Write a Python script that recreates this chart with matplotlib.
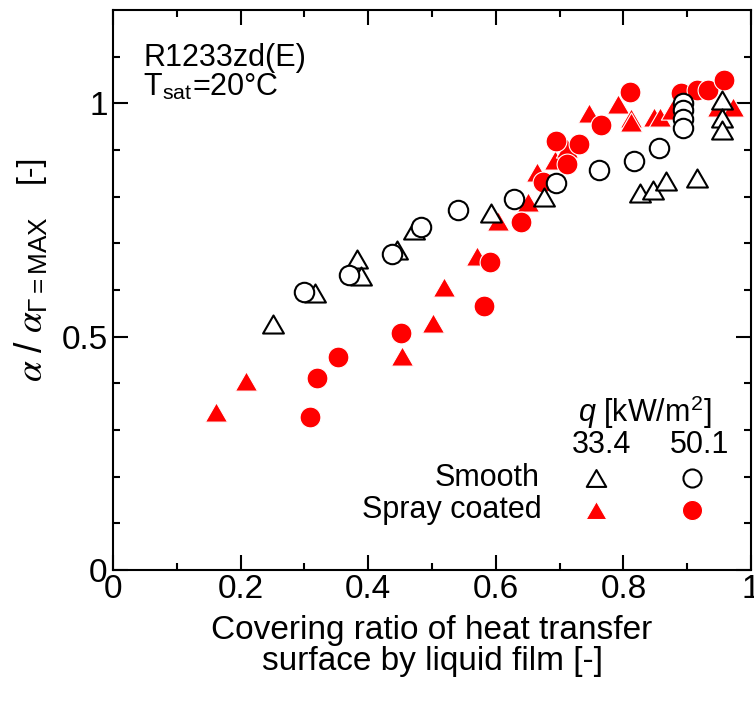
import matplotlib
matplotlib.use("Agg")
import matplotlib.pyplot as plt
from matplotlib.path import Path
import numpy as np

plt.rcParams['font.family'] = ['Liberation Sans', 'DejaVu Sans']
plt.rcParams['mathtext.fontset'] = 'custom'
plt.rcParams['mathtext.rm'] = 'Liberation Sans'
plt.rcParams['mathtext.sf'] = 'Liberation Sans'
plt.rcParams['mathtext.it'] = 'STIXGeneral:italic'
plt.rcParams['mathtext.cal'] = 'Liberation Sans:italic'

# ---- data ----
smooth_334_x = [0.250, 0.317, 0.383, 0.388, 0.445, 0.472, 0.592, 0.676, 0.826, 0.847, 0.867, 0.915, 0.954, 0.954, 0.954]
smooth_334_y = [0.528, 0.593, 0.666, 0.630, 0.685, 0.728, 0.765, 0.798, 0.807, 0.814, 0.834, 0.839, 1.006, 0.969, 0.942]

smooth_501_x = [0.299, 0.370, 0.438, 0.483, 0.541, 0.629, 0.694, 0.761, 0.816, 0.856, 0.893, 0.893, 0.893, 0.893]
smooth_501_y = [0.596, 0.632, 0.677, 0.735, 0.772, 0.794, 0.829, 0.857, 0.876, 0.905, 1.000, 0.985, 0.967, 0.946]

spray_334_x = [0.161, 0.208, 0.453, 0.501, 0.518, 0.571, 0.604, 0.650, 0.664, 0.693, 0.712, 0.746, 0.792,
               0.812, 0.812, 0.848, 0.858, 0.876, 0.949, 0.972]
spray_334_y = [0.339, 0.405, 0.458, 0.530, 0.607, 0.672, 0.747, 0.789, 0.852, 0.878, 0.905, 0.980, 0.999,
               0.969, 0.960, 0.971, 0.971, 0.985, 0.992, 0.992]

spray_501_x = [0.309, 0.320, 0.352, 0.452, 0.581, 0.591, 0.640, 0.674, 0.694, 0.712, 0.731, 0.765, 0.811,
               0.891, 0.915, 0.933, 0.957]
spray_501_y = [0.328, 0.412, 0.457, 0.507, 0.566, 0.660, 0.746, 0.832, 0.919, 0.870, 0.912, 0.954, 1.023,
               1.021, 1.029, 1.029, 1.049]

x_ticks = [0, 0.2, 0.4, 0.6, 0.8, 1.0]
x_tick_labels = ['0', '0.2', '0.4', '0.6', '0.8', '1']
y_ticks = [0, 0.5, 1.0]
y_tick_labels = ['0', '0.5', '1']
flux_labels = ['33.4', '50.1']
surface_labels = ['Smooth', 'Spray coated']

# ---- figure ----
fig = plt.figure(figsize=(7.54, 7.02), dpi=100)
ax = fig.add_axes([0.150, 0.188, 0.846, 0.798])

tri = Path([(-1, -0.866), (1, -0.866), (0, 0.866), (-1, -0.866)],
           [Path.MOVETO, Path.LINETO, Path.LINETO, Path.CLOSEPOLY])
RED = '#ff0000'

ax.plot(spray_334_x, spray_334_y, linestyle='none', marker=tri, ms=16,
        mfc=RED, mec='white', mew=0.8, zorder=3, clip_on=False)
ax.plot(spray_501_x, spray_501_y, linestyle='none', marker='o', ms=15,
        mfc=RED, mec='white', mew=0.8, zorder=4, clip_on=False)
ax.plot(smooth_334_x, smooth_334_y, linestyle='none', marker=tri, ms=15,
        mfc='white', mec='black', mew=1.5, zorder=5, clip_on=False)
ax.plot(smooth_501_x, smooth_501_y, linestyle='none', marker='o', ms=14,
        mfc='white', mec='black', mew=1.5, zorder=6, clip_on=False)

ax.set_xlim(0, 1)
ax.set_ylim(0, 1.2)
ax.set_xticks(x_ticks)
ax.set_xticklabels(x_tick_labels)
ax.set_xticks(np.arange(0.1, 1.0, 0.2), minor=True)
ax.set_yticks(y_ticks)
ax.set_yticklabels(y_tick_labels)
ax.set_yticks([v for v in np.arange(0.1, 1.2, 0.1) if abs(v - 0.5) > 1e-6 and abs(v - 1.0) > 1e-6], minor=True)

ax.tick_params(which='both', direction='in', top=True, right=True, width=1.5, labelsize=24)
ax.tick_params(which='major', length=11)
ax.tick_params(which='minor', length=5)
ax.tick_params(axis='x', pad=3)
ax.tick_params(axis='y', pad=4)
for s in ax.spines.values():
    s.set_linewidth(1.5)

# axis labels
ax.text(0.5, -0.135, 'Covering ratio of heat transfer\nsurface by liquid film [-]',
        transform=ax.transAxes, ha='center', va='center', fontsize=24, linespacing=1.0)
ax.text(-0.110, 0.336, r'$\alpha\ /\ \alpha_{\mathit{\Gamma}\mathrm{=MAX}}$',
        transform=ax.transAxes, ha='left', va='baseline', rotation=90,
        rotation_mode='anchor', fontsize=27)
ax.text(-0.118, 0.691, '[-]',
        transform=ax.transAxes, ha='left', va='baseline', rotation=90,
        rotation_mode='anchor', fontsize=23)

# annotation
ax.text(0.047, 0.914, 'R1233zd(E)', transform=ax.transAxes, ha='left', va='center', fontsize=22)
ax.text(0.047, 0.861, r'T$_{\mathrm{sat}}$=20°C', transform=ax.transAxes, ha='left', va='center', fontsize=22)

# manual legend
ax.text(0.834, 0.281, r'$\mathcal{q}$ [kW/m$^{2}$]', transform=ax.transAxes, ha='center', va='center', fontsize=22)
ax.text(0.766, 0.224, flux_labels[0], transform=ax.transAxes, ha='center', va='center', fontsize=22)
ax.text(0.920, 0.224, flux_labels[1], transform=ax.transAxes, ha='center', va='center', fontsize=22)
ax.text(0.668, 0.164, surface_labels[0], transform=ax.transAxes, ha='right', va='center', fontsize=22)
ax.text(0.672, 0.107, surface_labels[1], transform=ax.transAxes, ha='right', va='center', fontsize=22)
ax.plot([0.757], [0.164], transform=ax.transAxes, marker=tri, ms=14, mfc='white', mec='black', mew=1.5, linestyle='none')
ax.plot([0.908], [0.164], transform=ax.transAxes, marker='o', ms=13, mfc='white', mec='black', mew=1.5, linestyle='none')
ax.plot([0.757], [0.107], transform=ax.transAxes, marker=tri, ms=15, mfc=RED, mec='white', mew=0.8, linestyle='none')
ax.plot([0.908], [0.107], transform=ax.transAxes, marker='o', ms=14.5, mfc=RED, mec='white', mew=0.8, linestyle='none')

fig.savefig('out.png', dpi=100)
